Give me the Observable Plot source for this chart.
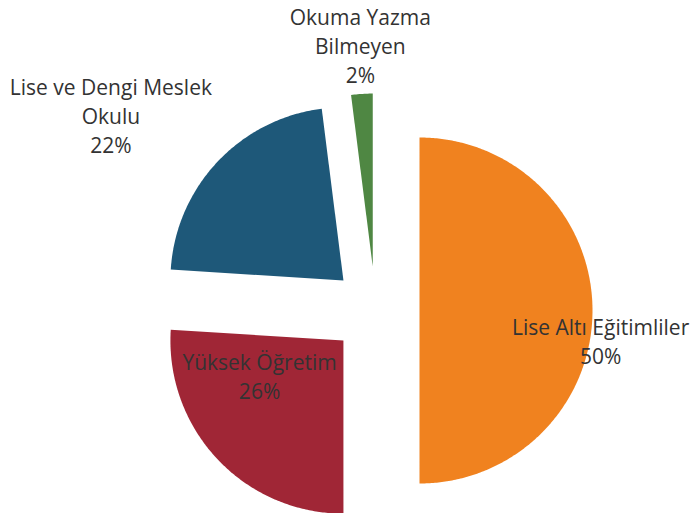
<!DOCTYPE html>
<html><head><meta charset="utf-8">
<script src="https://cdn.jsdelivr.net/npm/d3@7"></script>
<script src="https://cdn.jsdelivr.net/npm/@observablehq/plot@0.6"></script>
<style>body{margin:0;background:#fff}</style>
</head><body><div id="chart"></div>
<script>
// ---- data ----
const categories = ["Lise Altı Eğitimliler", "Yüksek Öğretim", "Lise ve Dengi Meslek Okulu", "Okuma Yazma Bilmeyen"];
const labelTexts = ["Lise Altı Eğitimliler", "Yüksek Öğretim", "Lise ve Dengi Meslek\nOkulu", "Okuma Yazma\nBilmeyen"];
const shares = [50, 26, 22, 2];
const colors = ["#F0821F", "#A02636", "#1E5879", "#4F8743"];

// ---- layout ----
const W = 690, H = 513;
const cx = 375, cy = 310, R = 173;
const explode = 44 / R;
const labelPlacement = [{a: 98.3, r: 1.315}, {a: 239.6, r: 0.777}, {a: 306.1, r: 1.893}, {a: 356.7, r: 1.523}];

const pie = d3.pie().sort(null).value(d => d)(shares);
const slicePoints = [];
pie.forEach((p, i) => {
  const mid = (p.startAngle + p.endAngle) / 2;
  const ox = explode * Math.sin(mid), oy = explode * Math.cos(mid);
  slicePoints.push({cat: categories[i], x: ox, y: oy});
  const n = Math.max(2, Math.ceil((p.endAngle - p.startAngle) / 0.01));
  for (let k = 0; k <= n; k++) {
    const a = p.startAngle + (p.endAngle - p.startAngle) * k / n;
    slicePoints.push({cat: categories[i], x: ox + Math.sin(a), y: oy + Math.cos(a)});
  }
  slicePoints.push({cat: categories[i], x: ox, y: oy});
});
const labels = pie.map((p, i) => {
  const a = labelPlacement[i].a * Math.PI / 180, r = labelPlacement[i].r;
  return {cat: categories[i], x: r * Math.sin(a), y: r * Math.cos(a), text: labelTexts[i] + "\n" + shares[i] + "%"};
});

const chart = Plot.plot({
  width: W, height: H,
  margin: 0,
  x: {domain: [-cx / R, (W - cx) / R], range: [0, W], axis: null},
  y: {domain: [-(H - cy) / R, cy / R], range: [H, 0], axis: null},
  color: {domain: categories, range: colors},
  style: {background: "#fff"},
  marks: [
    Plot.line(slicePoints, {x: "x", y: "y", z: "cat", fill: "cat", stroke: "none", curve: "linear"}),
    Plot.text(labels, {x: "x", y: "y", text: "text", fontSize: 21, lineHeight: 1.38, dy: -3, fill: "#333",
      fontFamily: "'Open Sans', sans-serif"})
  ]
});
document.getElementById("chart").appendChild(chart);
</script>
</body></html>
